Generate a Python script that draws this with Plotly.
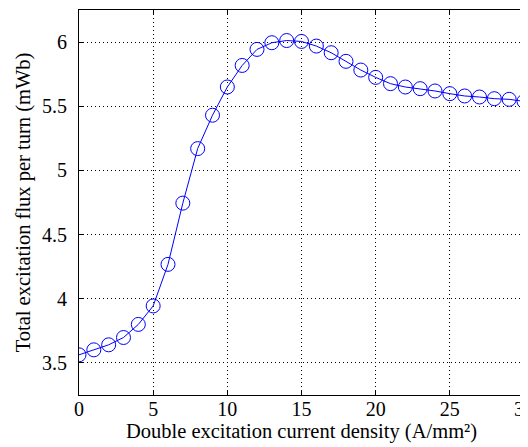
import plotly.graph_objects as go

current_density = list(range(0, 31))
flux = [3.563, 3.602, 3.641, 3.698, 3.800, 3.944, 4.268, 4.745, 5.170, 5.430,
        5.650, 5.818, 5.943, 5.995, 6.012, 6.005, 5.969, 5.917, 5.850, 5.782,
        5.725, 5.676, 5.650, 5.637, 5.619, 5.598, 5.580, 5.572, 5.559, 5.554, 5.538]
x_ticks = [0, 5, 10, 15, 20, 25, 30]
y_ticks = [3.5, 4, 4.5, 5, 5.5, 6]
y_tick_labels = ["3.5", "4", "4.5", "5", "5.5", "6"]

fig = go.Figure()
fig.add_trace(go.Scatter(
    x=current_density, y=flux, mode="lines+markers",
    line=dict(color="rgb(0,0,255)", width=1),
    marker=dict(symbol="circle-open", size=14, color="rgb(0,0,255)", line=dict(width=1)),
    showlegend=False,
))

tick_font = dict(family="Liberation Serif", size=20, color="black")
title_font = dict(family="Liberation Serif", size=20.5, color="black")
axis_common = dict(
    showline=True, linecolor="black", linewidth=1, mirror="allticks",
    ticks="inside", ticklen=5, tickcolor="black",
    showgrid=True, gridcolor="black", gridwidth=1, griddash="1px,3px",
    zeroline=False, tickfont=tick_font, automargin=False,
)
fig.update_layout(
    width=528, height=447,
    margin=dict(l=71, r=12, t=2, b=60),
    paper_bgcolor="white", plot_bgcolor="white",
    font=tick_font,
    xaxis=dict(range=[0, 30], tickvals=x_ticks, ticklabelstandoff=-4,
               title=dict(text="Double excitation current density (A/mm²)", font=title_font, standoff=4),
               **axis_common),
    yaxis=dict(range=[3.25, 6.25], tickvals=y_ticks, ticktext=y_tick_labels, ticklabelstandoff=7,
               title=dict(text="Total excitation flux per turn (mWb)", font=title_font, standoff=5),
               **axis_common),
)
fig.write_html("out.html")
